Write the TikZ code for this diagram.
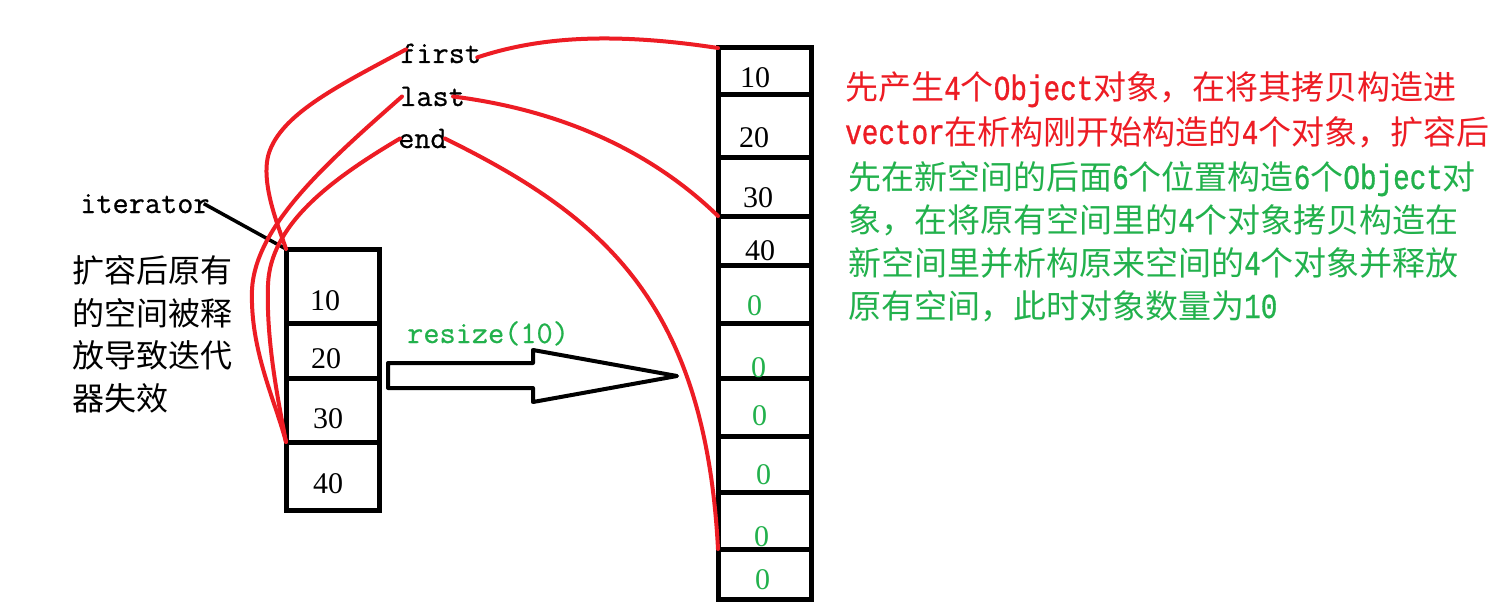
\documentclass[tikz,border=0pt]{standalone}
\usepackage{fontspec}
\setmainfont{Liberation Serif}
\newfontfamily\cjkf{Noto Sans CJK SC}
\newfontfamily\monof[FakeBold=0.6]{Latin Modern Mono}
\newfontfamily\ltf[FakeStretch=0.79,FakeBold=0.8]{Liberation Mono}
\definecolor{pred}{RGB}{237,28,36}
\definecolor{pgreen}{RGB}{34,177,76}
\newcommand\cj[1]{{\cjkf\fontsize{33}{43}\selectfont #1}}
\newcommand\cjl[1]{{\cjkf\fontsize{32}{43}\selectfont #1}}
\newcommand\lt[1]{{\ltf\fontsize{35}{43}\selectfont #1}}
\begin{document}
\begin{tikzpicture}[x=1pt,y=-1pt,
  box/.style={draw=black,line width=5pt},
  redline/.style={draw=pred,line width=4pt,line cap=round},
  num/.style={font=\fontsize{30}{30}\selectfont,inner sep=0pt,anchor=base west},
  lab/.style={font=\monof\fontsize{31.4}{40}\selectfont,inner sep=0pt,anchor=base west},
  txt/.style={inner sep=0pt,anchor=base west}]
\useasboundingbox[fill=white] (0,0) rectangle (1503,615);
% left (old) storage
\draw[box] (286,249) rectangle (379,510);
\foreach \y in {323,378,442} \draw[box] (286,\y) -- (379,\y);
\coordinate (LT) at (286,249);
\coordinate (L40) at (286,442);
\node[num] (l10) at (310,310) {10};
\node[num] (l20) at (311,368) {20};
\node[num] (l30) at (313,428) {30};
\node[num] (l40) at (313,493) {40};
% right (new) storage
\draw[box] (718,48) rectangle (811,599);
\foreach \y in {95,157,216,265,323,378,436,492,549} \draw[box] (718,\y) -- (811,\y);
\coordinate (RT) at (718,48);
\coordinate (R30) at (718,216);
\coordinate (R9) at (718,549);
\node[num] (r10) at (740,88) {10};
\node[num] (r20) at (739,147) {20};
\node[num] (r30) at (743,207) {30};
\node[num] (r40) at (745,260) {40};
\node[num,text=pgreen] (r5) at (747,315) {0};
\node[num,text=pgreen] (r6) at (751,377) {0};
\node[num,text=pgreen] (r7) at (752,425) {0};
\node[num,text=pgreen] (r8) at (756,484) {0};
\node[num,text=pgreen] (r9) at (754,546) {0};
\node[num,text=pgreen] (r10b) at (755,589) {0};
% pointer labels
\node[lab] (first) at (400,63) {first};
\node[lab] (last) at (400,106) {last};
\node[lab] (end) at (398,148) {end};
\node[lab] (iter) at (80,213) {iterator};
% iterator pointer
\draw[black,line width=3.5pt] ([xshift=-6pt]iter.east) -- (LT);
% red curves to old storage
\draw[redline] ([xshift=6pt,yshift=4pt]first.west) .. controls (340,85) and (285,112) .. (270,150) .. controls (258,180) and (280,230) .. (LT);
\draw[redline] ([xshift=2pt]last.west) .. controls (330,160) and (255,225) .. (252,290) .. controls (250,350) and (275,400) .. (L40);
\draw[redline] ([xshift=2pt]end.west) .. controls (330,180) and (270,225) .. (268,285) .. controls (266,340) and (278,400) .. (L40);
% red curves to new storage
\draw[redline] ([xshift=-4pt,yshift=-4pt]first.east) .. controls (530,40) and (600,30) .. (RT);
\draw[redline] ([xshift=-12pt]last.east) .. controls (560,110) and (650,150) .. (R30);
\draw[redline] ([xshift=-2pt]end.east) .. controls (600,215) and (705,300) .. (R9);
% resize arrow
\draw[black,line width=4pt,line join=round] (388,363) -- (533,363) -- (533,350) -- (677,376) -- (533,402) -- (533,388) -- (388,388) -- cycle;
\node[lab,text=pgreen] (resize) at (407,343) {resize(10)};
% left explanation
\node[txt] (c1) at (72,282) {\cjl{扩容后原有}};
\node[txt] (c2) at (72,325) {\cjl{的空间被释}};
\node[txt] (c3) at (72,367) {\cjl{放导致迭代}};
\node[txt] (c4) at (72,410) {\cjl{器失效}};
% right explanation
\node[txt,text=pred] (t1) at (845,100) {\cj{先产生}\lt{4}\cj{个}\lt{Object}\cj{对象，在将其拷贝构造进}};
\node[txt,text=pred] (t2) at (845,144) {\lt{vector}\cj{在析构刚开始构造的}\lt{4}\cj{个对象，扩容后}};
\node[txt,text=pgreen] (t3) at (848,189) {\cj{先在新空间的后面}\lt{6}\cj{个位置构造}\lt{6}\cj{个}\lt{Object}\cj{对}};
\node[txt,text=pgreen] (t4) at (848,232) {\cj{象，在将原有空间里的}\lt{4}\cj{个对象拷贝构造在}};
\node[txt,text=pgreen] (t5) at (848,275) {\cj{新空间里并析构原来空间的}\lt{4}\cj{个对象并释放}};
\node[txt,text=pgreen] (t6) at (848,318) {\cj{原有空间，此时对象数量为}\lt{10}};
\end{tikzpicture}
\end{document}
